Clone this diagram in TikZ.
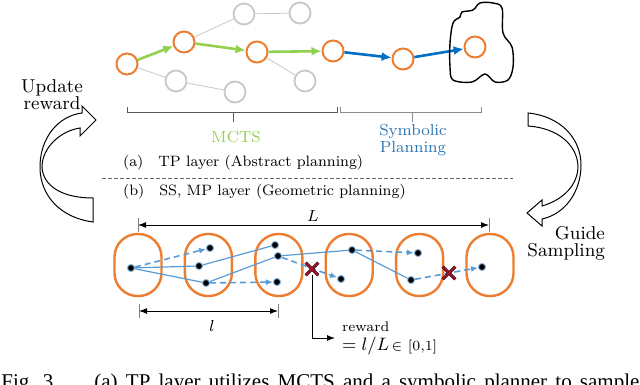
\documentclass[tikz,border=0pt]{standalone}
\usepackage{fontspec}
\usepackage{amsmath}
\usepackage{tikz}
\usetikzlibrary{arrows.meta,positioning,shapes.misc}
\newfontfamily\captionserif{Liberation Serif}
\definecolor{planorange}{HTML}{ED7D31}
\definecolor{mctsgreen}{HTML}{92D050}
\definecolor{symblue}{HTML}{0070C0}
\definecolor{symtext}{HTML}{2E75B6}
\definecolor{pathblue}{HTML}{5B9BD5}
\definecolor{failred}{HTML}{A8102A}
\definecolor{treegray}{HTML}{C8C8C8}

\begin{document}
\begin{tikzpicture}[
        x=0.5pt, y=-0.5pt,
        every node/.style={font=\fontsize{8}{9}\selectfont, align=center},
        state/.style={circle, draw=planorange, line width=1pt, minimum size=10.5pt, inner sep=0pt},
        ghost/.style={circle, draw=treegray, line width=0.9pt, minimum size=10.5pt, inner sep=0pt},
        branch/.style={treegray, line width=0.4pt},
        mctsarrow/.style={-{Latex[length=5pt,width=4.5pt]}, mctsgreen, line width=1.3pt},
        symarrow/.style={-{Latex[length=5pt,width=4.5pt]}, symblue, line width=1.3pt},
        bracket/.style={black!65, line width=0.5pt},
        layer/.style={anchor=base west, font=\fontsize{7.5}{9}\selectfont},
        region/.style={draw=planorange, line width=1.2pt, rounded corners=11.5pt, minimum width=23.5pt, minimum height=31pt, inner sep=0pt},
        sample/.style={circle, fill=black, draw=pathblue!70, line width=0.5pt, minimum size=3.6pt, inner sep=0pt},
        link/.style={pathblue, line width=0.6pt},
        guess/.style={pathblue, line width=0.8pt, dash pattern=on 3pt off 2pt, -{Latex[length=3.5pt,width=3pt]}},
        fail/.style={cross out, draw=black, double=failred, double distance=0.9pt, line width=0.3pt, minimum size=6pt, inner sep=0pt},
        dimline/.style={{Latex[length=4pt,width=3pt]}-{Latex[length=4pt,width=3pt]}, line width=0.5pt},
        dimbar/.style={black!50, line width=0.5pt},
        blockarrow/.style={line width=0.5pt, fill=white, line join=miter},
        side/.style={font=\fontsize{9.3}{8.5}\selectfont}
    ]
        \useasboundingbox (0,0) rectangle (640,384);
        \clip (0,0) rectangle (640,384);

        % task tree
        \node[state] (n1) at (127,64) {};
        \node[state] (n2) at (184,42) {};
        \node[state] (n3) at (257,52) {};
        \node[state] (n4) at (333,51) {};
        \node[state] (n5) at (403,59) {};
        \node[state] (n6) at (475,47) {};
        \node[ghost] (g1) at (244,14) {};
        \node[ghost] (g2) at (300,13) {};
        \node[ghost] (g3) at (176,81) {};
        \node[ghost] (g4) at (235,92) {};
        \node[ghost] (g5) at (305,81) {};
        \draw[branch] (n1) -- (g3);
        \draw[branch] (g3) -- (g4);
        \draw[branch] (n2) -- (g1);
        \draw[branch] (g1) -- (g2);
        \draw[branch] (n3) -- (g5);
        \draw[mctsarrow] (n1) -- (n2);
        \draw[mctsarrow] (n2) -- (n3);
        \draw[mctsarrow] (n3) -- (n4);
        \draw[symarrow] (n4) -- (n5);
        \draw[symarrow] (n5) -- (n6);
        \draw[line width=0.7pt] plot[smooth cycle, tension=0.55] coordinates {(453,23) (460,17) (462,12) (473,10) (480,3) (493,3) (502,8) (503,33) (512,47) (513,67) (508,80) (495,82) (485,74) (472,82) (453,80) (450,67) (450,43)};

        % brackets
        \draw[bracket] (127,107) -- (127,113) -- (337,113) -- (337,107);
        \draw[bracket] (233,113) -- (233,122);
        \draw[bracket, black!45] (340,107) -- (340,113) -- (481,113) -- (481,107);
        \draw[bracket, black!45] (412,113) -- (412,122);
        \node[text=mctsgreen] (mcts) at (236,137) {MCTS};
        \node[text=symtext, font=\fontsize{8}{7}\selectfont] (symb) at (413,140) {Symbolic\\Planning};

        % layers
        \node[layer] (tpa) at (116,167) {(a)\quad TP layer (Abstract planning)};
        \draw[black!60, line width=0.4pt, dash pattern=on 2pt off 1pt] (102,178) -- (513,178);
        \node[layer] (ssb) at (116,196) {(b)\quad SS, MP layer (Geometric planning)};

        % feedback arrows
        \draw[blockarrow] (93,222) .. controls (62,218) and (40,197) .. (40,167)
            .. controls (40,138) and (58,116) .. (82,113) -- (82,106) -- (96,120)
            -- (80,136) -- (80,128) .. controls (60,131) and (42,148) .. (42,167)
            .. controls (43,186) and (62,198) .. (93,198) -- cycle;
        \node[side] (upd) at (52,95) {Update\\reward};
        \draw[blockarrow] (528,113) .. controls (560,116) and (581,138) .. (581,165)
            .. controls (581,192) and (565,214) .. (542,219) -- (542,226) -- (527,213)
            -- (542,200) -- (542,206) .. controls (563,200) and (578,185) .. (578,166)
            .. controls (577,145) and (558,128) .. (528,126) -- cycle;
        \node[side, anchor=east, align=right] (guide) at (612,243) {Guide\\Sampling};

        % sampling regions
        \node[region] (r1) at (138,265) {};
        \node[region, right=10.5pt of r1] (r2) {};
        \node[region, right=10.5pt of r2] (r3) {};
        \node[region, right=10.5pt of r3] (r4) {};
        \node[region, right=10.5pt of r4] (r5) {};
        \node[region, right=10.5pt of r5] (r6) {};

        \node[sample] (d1) at (131,268) {};
        \node[sample] (d2a) at (210,248) {};
        \node[sample] (d2b) at (199,266) {};
        \node[sample] (d2c) at (206,283) {};
        \node[sample] (d3a) at (275,245) {};
        \node[sample] (d3b) at (278,256) {};
        \node[sample] (d3c) at (277,282) {};
        \node[sample] (d4a) at (352,250) {};
        \node[sample] (d4b) at (341,279) {};
        \node[sample] (d5a) at (418,253) {};
        \node[sample] (d5b) at (411,280) {};
        \node[sample] (d6) at (482,267) {};

        \draw[link] (d1) -- (d2b);
        \draw[link] (d1) -- (d2c);
        \draw[link] (d2b) -- (d3a);
        \draw[link] (d2c) -- (d3b);
        \draw[link] (d3b) -- (d4a);
        \draw[link] (d4a) -- (d5b);
        \draw[guess] (d1) -- (d2a);
        \draw[guess] (d2c) -- (d3c);
        \draw[guess] (d3b) -- (d4b);
        \draw[guess] (d4a) -- (d5a);
        \draw[guess] (d5b) -- (d6);
        \node[fail] (x1) at (312,269) {};
        \node[fail] (x2) at (449,273) {};

        % lengths
        \coordinate (La) at (138,225);
        \coordinate (Lb) at (489,225);
        \draw[dimbar] (138,218) -- (138,232);
        \draw[dimbar] (489,218) -- (489,232);
        \draw[dimline] (La) -- (Lb);
        \node (Llab) at (313,216) {$L$};
        \coordinate (la) at (139,311);
        \coordinate (lb) at (278,311);
        \draw[dimbar] (139,304) -- (139,318);
        \draw[dimbar] (278,304) -- (278,318);
        \draw[dimline] (la) -- (lb);
        \node (llab) at (212,326) {$l$};

        \node[anchor=west, align=left, font=\fontsize{7}{9.5}\selectfont] (reward) at (335,338) {reward\\{\fontsize{9}{9}\selectfont$=l/L$}\,$\in$ [0,1]};
        \draw[line width=0.5pt, -{Latex[length=4pt,width=3pt]}] (x1) |- (reward.west);

        \node[anchor=base west, inner sep=0pt, font=\captionserif\fontsize{10.5}{12}\selectfont] (caption) at (1,388) {\makebox[319pt][s]{Fig.~3.\hspace{10pt} (a) TP layer utilizes MCTS and a symbolic planner to sample}};
    \end{tikzpicture}
\end{document}
